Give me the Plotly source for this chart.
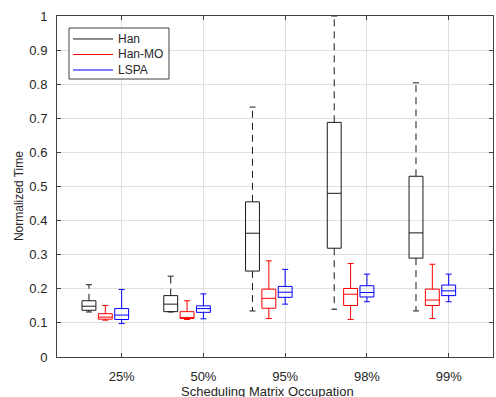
import plotly.graph_objects as go

categories = ["25%", "50%", "95%", "98%", "99%"]
series_names = ["Han", "Han-MO", "LSPA"]

han_lower = [0.132, 0.132, 0.135, 0.140, 0.135]
han_q1 = [0.137, 0.133, 0.252, 0.319, 0.290]
han_median = [0.149, 0.155, 0.363, 0.480, 0.364]
han_q3 = [0.165, 0.180, 0.455, 0.688, 0.530]
han_upper = [0.212, 0.237, 0.733, 1.000, 0.804]

hanmo_lower = [0.108, 0.110, 0.113, 0.110, 0.113]
hanmo_q1 = [0.111, 0.113, 0.143, 0.151, 0.151]
hanmo_median = [0.117, 0.116, 0.172, 0.184, 0.167]
hanmo_q3 = [0.127, 0.133, 0.199, 0.201, 0.199]
hanmo_upper = [0.151, 0.165, 0.282, 0.274, 0.272]

lspa_lower = [0.098, 0.112, 0.155, 0.162, 0.162]
lspa_q1 = [0.110, 0.131, 0.175, 0.176, 0.180]
lspa_median = [0.123, 0.142, 0.190, 0.189, 0.194]
lspa_q3 = [0.142, 0.150, 0.207, 0.209, 0.211]
lspa_upper = [0.198, 0.185, 0.257, 0.243, 0.243]

y_ticks = [0, 0.1, 0.2, 0.3, 0.4, 0.5, 0.6, 0.7, 0.8, 0.9, 1]
y_ticklabels = ["0", "0.1", "0.2", "0.3", "0.4", "0.5", "0.6", "0.7", "0.8", "0.9", "1"]

stats = [
    (han_lower, han_q1, han_median, han_q3, han_upper),
    (hanmo_lower, hanmo_q1, hanmo_median, hanmo_q3, hanmo_upper),
    (lspa_lower, lspa_q1, lspa_median, lspa_q3, lspa_upper),
]
colors = ["#1a1a1a", "#ff0000", "#0000ff"]
whisker_dash = ["7px,5px", "solid", "solid"]
offsets = [-0.4, -0.2, 0.0]
half_w = 0.085
cap_w = 0.037

fig = go.Figure()
positions = list(range(1, len(categories) + 1))

for s, name in enumerate(series_names):
    lo, q1, med, q3, up = stats[s]
    bx, by = [], []
    mx, my = [], []
    wx, wy = [], []
    cx, cy = [], []
    for i, p in enumerate(positions):
        c = p + offsets[s]
        bx += [c - half_w, c + half_w, c + half_w, c - half_w, c - half_w, None]
        by += [q1[i], q1[i], q3[i], q3[i], q1[i], None]
        mx += [c - half_w, c + half_w, None]
        my += [med[i], med[i], None]
        wx += [c, c, None, c, c, None]
        wy += [q3[i], up[i], None, q1[i], lo[i], None]
        cx += [c - cap_w, c + cap_w, None, c - cap_w, c + cap_w, None]
        cy += [up[i], up[i], None, lo[i], lo[i], None]
    fig.add_trace(go.Scatter(x=bx, y=by, mode="lines", name=name, showlegend=False,
                             line=dict(color=colors[s], width=1), hoverinfo="skip"))
    fig.add_trace(go.Scatter(x=mx, y=my, mode="lines", showlegend=False,
                             line=dict(color=colors[s], width=1), hoverinfo="skip"))
    fig.add_trace(go.Scatter(x=wx, y=wy, mode="lines", showlegend=False,
                             line=dict(color=colors[s], width=1, dash=whisker_dash[s]), hoverinfo="skip"))
    fig.add_trace(go.Scatter(x=cx, y=cy, mode="lines", showlegend=False,
                             line=dict(color=colors[s], width=1), hoverinfo="skip"))

axis_color = "#404040"
grid_color = "#e0e0e0"
font_family = "Liberation Sans, Arial, sans-serif"

# Legend drawn as a box with line samples and text (MATLAB-style compact spacing)
leg_x0, leg_x1, leg_y0, leg_y1 = 0.0275, 0.2569, 0.8152, 0.9648
sample_x0, sample_x1, text_x = 0.0367, 0.1284, 0.1353
first_row_y, row_step = 0.9326, 0.0455
shapes = [dict(type="rect", xref="paper", yref="paper", x0=leg_x0, x1=leg_x1, y0=leg_y0, y1=leg_y1,
               line=dict(color=axis_color, width=1), fillcolor="white", layer="above")]
annotations = []
for s, name in enumerate(series_names):
    yy = first_row_y - s * row_step
    shapes.append(dict(type="line", xref="paper", yref="paper", x0=sample_x0, x1=sample_x1, y0=yy, y1=yy,
                       line=dict(color=colors[s], width=1), layer="above"))
    annotations.append(dict(text=name, xref="paper", yref="paper", x=text_x, y=yy,
                            xanchor="left", yanchor="middle", showarrow=False,
                            font=dict(size=12, color="#262626")))

annotations += [
    dict(text="Scheduling Matrix Occupation", xref="paper", yref="paper",
         x=0.4817, y=-0.1026, xanchor="center", yanchor="middle", showarrow=False,
         font=dict(size=13, color="#262626")),
    dict(text="Normalized Time", xref="paper", yref="paper", textangle=-90,
         x=-0.087, y=0.472, xanchor="center", yanchor="middle", showarrow=False,
         font=dict(size=12, color="#262626")),
]

fig.update_layout(
    width=496, height=397,
    margin=dict(l=57, r=3, t=16, b=40),
    paper_bgcolor="white", plot_bgcolor="white",
    font=dict(family=font_family, size=13, color="#262626"),
    showlegend=False,
    shapes=shapes,
    annotations=annotations,
    xaxis=dict(range=[0.209, 5.542], tickmode="array", tickvals=positions, ticktext=categories,
               showgrid=True, gridcolor=grid_color, gridwidth=1, zeroline=False,
               showline=True, linecolor=axis_color, linewidth=1, mirror="ticks",
               ticks="inside", ticklen=4, tickcolor=axis_color, ticklabelstandoff=7,
               tickfont=dict(size=13, color="#262626")),
    yaxis=dict(range=[0, 1], tickmode="array", tickvals=y_ticks, ticktext=y_ticklabels,
               showgrid=True, gridcolor=grid_color, gridwidth=1, zeroline=False,
               showline=True, linecolor=axis_color, linewidth=1, mirror="ticks",
               ticks="inside", ticklen=4, tickcolor=axis_color, ticklabelstandoff=6,
               tickfont=dict(size=13, color="#262626")),
)

fig.write_html("out.html")
